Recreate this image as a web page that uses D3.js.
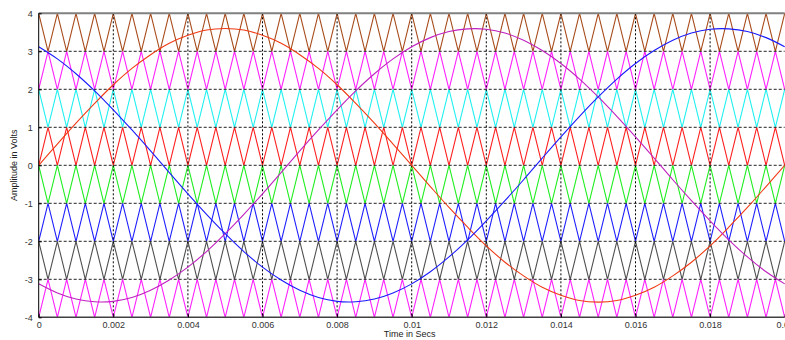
<!DOCTYPE html>
<html>
<head>
<meta charset="utf-8">
<script src="https://cdn.jsdelivr.net/npm/d3@7"></script>
<style>
  html, body { margin: 0; padding: 0; background: #ffffff; }
  svg { display: block; font-family: "Liberation Sans", Arial, sans-serif; }
</style>
</head>
<body>
<svg id="chart" width="785" height="340"></svg>
<script>
// ---------------- DATA ----------------
// Sample times of the modulating sine waves (seconds)
const sineTimes = [0, 0.0005, 0.001, 0.0015, 0.002, 0.0025, 0.003, 0.0035, 0.004, 0.0045,
  0.005, 0.0055, 0.006, 0.0065, 0.007, 0.0075, 0.008, 0.0085, 0.009, 0.0095,
  0.01, 0.0105, 0.011, 0.0115, 0.012, 0.0125, 0.013, 0.0135, 0.014, 0.0145,
  0.015, 0.0155, 0.016, 0.0165, 0.017, 0.0175, 0.018, 0.0185, 0.019, 0.0195, 0.02];

const sineRed = [0, 0.56, 1.11, 1.63, 2.12, 2.55, 2.91, 3.21, 3.42, 3.56,
  3.60, 3.56, 3.42, 3.21, 2.91, 2.55, 2.12, 1.63, 1.11, 0.56,
  0, -0.56, -1.11, -1.63, -2.12, -2.55, -2.91, -3.21, -3.42, -3.56,
  -3.60, -3.56, -3.42, -3.21, -2.91, -2.55, -2.12, -1.63, -1.11, -0.56, 0];

const sineMagenta = [-3.12, -3.36, -3.52, -3.59, -3.58, -3.48, -3.29, -3.02, -2.68, -2.27,
  -1.80, -1.29, -0.75, -0.19, 0.38, 0.93, 1.46, 1.96, 2.41, 2.80,
  3.12, 3.36, 3.52, 3.59, 3.58, 3.48, 3.29, 3.02, 2.68, 2.27,
  1.80, 1.29, 0.75, 0.19, -0.38, -0.93, -1.46, -1.96, -2.41, -2.80, -3.12];

const sineBlue = [3.12, 2.80, 2.41, 1.96, 1.46, 0.93, 0.38, -0.19, -0.75, -1.29,
  -1.80, -2.27, -2.68, -3.02, -3.29, -3.48, -3.58, -3.59, -3.52, -3.36,
  -3.12, -2.80, -2.41, -1.96, -1.46, -0.93, -0.38, 0.19, 0.75, 1.29,
  1.80, 2.27, 2.68, 3.02, 3.29, 3.48, 3.58, 3.59, 3.52, 3.36, 3.12];

// Vertex times of the triangular carriers (seconds)
const carrierTimes = [0, 0.00025, 0.0005, 0.00075, 0.001, 0.00125, 0.0015, 0.00175,
  0.002, 0.00225, 0.0025, 0.00275, 0.003, 0.00325, 0.0035, 0.00375,
  0.004, 0.00425, 0.0045, 0.00475, 0.005, 0.00525, 0.0055, 0.00575,
  0.006, 0.00625, 0.0065, 0.00675, 0.007, 0.00725, 0.0075, 0.00775,
  0.008, 0.00825, 0.0085, 0.00875, 0.009, 0.00925, 0.0095, 0.00975,
  0.01, 0.01025, 0.0105, 0.01075, 0.011, 0.01125, 0.0115, 0.01175,
  0.012, 0.01225, 0.0125, 0.01275, 0.013, 0.01325, 0.0135, 0.01375,
  0.014, 0.01425, 0.0145, 0.01475, 0.015, 0.01525, 0.0155, 0.01575,
  0.016, 0.01625, 0.0165, 0.01675, 0.017, 0.01725, 0.0175, 0.01775,
  0.018, 0.01825, 0.0185, 0.01875, 0.019, 0.01925, 0.0195, 0.01975, 0.02];

// Carrier bands: level at even vertices, level at odd vertices
const carrierEvenLevel = [4, 2, 2, 0, 0, -2, -2, -4];
const carrierOddLevel  = [3, 3, 1, 1, -1, -1, -3, -3];
const carrierColors = ["#a84c1c", "#ff22ff", "#22f0f0", "#ff2020", "#20ee20", "#2020ff", "#505050", "#ff22ff"];

const sineSeries = [sineRed, sineMagenta, sineBlue];
const sineColors = ["#f03a14", "#c020c0", "#1a1aff"];

const xTicks = [0, 0.002, 0.004, 0.006, 0.008, 0.01, 0.012, 0.014, 0.016, 0.018, 0.02];
const xTickLabels = ["0", "0.002", "0.004", "0.006", "0.008", "0.01", "0.012", "0.014", "0.016", "0.018", "0.02"];
const yTicks = [-4, -3, -2, -1, 0, 1, 2, 3, 4];
const yTickLabels = ["-4", "-3", "-2", "-1", "0", "1", "2", "3", "4"];

// ---------------- CHART ----------------
const W = 785, H = 340;
const mLeft = 38.7, mRight = 784.7, mTop = 13.3, mBottom = 317.3;
const svg = d3.select("#chart");

const x = d3.scaleLinear().domain([0, 0.02]).range([mLeft, mRight]);
const y = d3.scaleLinear().domain([-4, 4]).range([mBottom, mTop]);

svg.append("defs").append("clipPath").attr("id", "plotclip")
  .append("rect").attr("x", mLeft).attr("y", mTop - 1).attr("width", mRight - mLeft + 2).attr("height", mBottom - mTop + 2);

const plot = svg.append("g").attr("clip-path", "url(#plotclip)");

const line = d3.line().x(d => x(d[0])).y(d => y(d[1]));

// carriers
carrierEvenLevel.forEach((ev, b) => {
  const pts = carrierTimes.map((t, i) => [t, i % 2 === 0 ? ev : carrierOddLevel[b]]);
  plot.append("path").attr("d", line(pts))
    .attr("fill", "none").attr("stroke", carrierColors[b]).attr("stroke-width", 1.1)
    .attr("stroke-linejoin", "miter");
});

// grid
plot.append("g").selectAll("line").data(xTicks.slice(1, -1)).join("line")
  .attr("x1", d => x(d)).attr("x2", d => x(d)).attr("y1", mTop).attr("y2", mBottom)
  .attr("stroke", "#000").attr("stroke-width", 1).attr("stroke-dasharray", "2,2");
plot.append("g").selectAll("line").data(yTicks.slice(1, -1)).join("line")
  .attr("x1", mLeft).attr("x2", mRight).attr("y1", d => y(d)).attr("y2", d => y(d))
  .attr("stroke", "#222").attr("stroke-width", 1).attr("stroke-dasharray", "3,2");

// sines
const sline = d3.line().x(d => x(d[0])).y(d => y(d[1])).curve(d3.curveCatmullRom);
sineSeries.forEach((s, k) => {
  plot.append("path").attr("d", sline(sineTimes.map((t, i) => [t, s[i]])))
    .attr("fill", "none").attr("stroke", sineColors[k]).attr("stroke-width", 1.1);
});

// axes box
svg.append("line").attr("x1", mLeft).attr("x2", mRight).attr("y1", mTop).attr("y2", mTop)
  .attr("stroke", "#808080").attr("stroke-width", 2);
svg.append("line").attr("x1", mLeft).attr("x2", mRight).attr("y1", mBottom).attr("y2", mBottom)
  .attr("stroke", "#404040").attr("stroke-width", 1.5);
svg.append("line").attr("x1", mLeft).attr("x2", mLeft).attr("y1", mTop).attr("y2", mBottom)
  .attr("stroke", "#000").attr("stroke-width", 1);

// y axis ticks + labels
const yAxis = d3.axisLeft(y).tickValues(yTicks).tickFormat((d, i) => yTickLabels[i]).tickSize(-3).tickPadding(6);
const gy = svg.append("g").attr("transform", `translate(${mLeft},0)`).call(yAxis);
gy.select(".domain").remove();
gy.selectAll("line").attr("stroke", "#000");
gy.selectAll("text").attr("font-size", 9).attr("fill", "#333").attr("font-family", "Liberation Sans, Arial, sans-serif");

// x axis ticks + labels
const xAxis = d3.axisBottom(x).tickValues(xTicks).tickFormat((d, i) => xTickLabels[i]).tickSize(-3).tickPadding(4);
const gx = svg.append("g").attr("transform", `translate(0,${mBottom})`).call(xAxis);
gx.select(".domain").remove();
gx.selectAll("line").attr("stroke", "#000");
gx.selectAll("text").attr("font-size", 9).attr("fill", "#333").attr("font-family", "Liberation Sans, Arial, sans-serif");

// axis titles
svg.append("text").attr("x", (mLeft + mRight) / 2 - 2).attr("y", 337)
  .attr("text-anchor", "middle").attr("font-size", 9).attr("fill", "#222").text("Time in Secs");
svg.append("text").attr("transform", `translate(17,${(mTop + mBottom) / 2}) rotate(-90)`)
  .attr("text-anchor", "middle").attr("font-size", 9).attr("fill", "#222").text("Amplitude in Volts");
</script>
</body>
</html>
